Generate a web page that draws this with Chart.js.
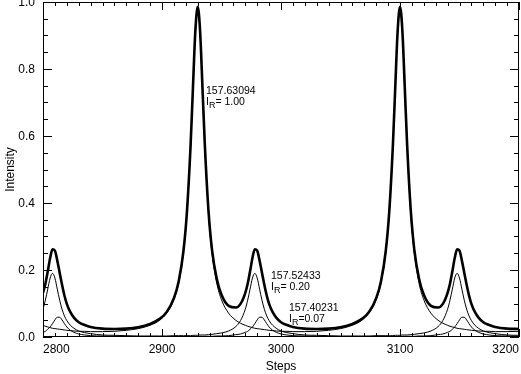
<!DOCTYPE html>
<html>
<head>
<meta charset="utf-8">
<script src="https://cdn.jsdelivr.net/npm/chart.js@4.4.1/dist/chart.umd.min.js"></script>
<style>
  html, body { margin: 0; padding: 0; background: #fff; }
  #wrap { width: 521px; height: 374px; }
</style>
</head>
<body>
<div id="wrap"><canvas id="fp_chart" width="521" height="374"></canvas></div>
<script>
// scan positions (steps)
const steps = [
  2800, 2802, 2804, 2806, 2808, 2810, 2812, 2814, 2816, 2818, 2820, 2823, 2826, 2830, 2835, 2840,
  2850, 2860, 2870, 2880, 2890, 2898, 2904, 2910, 2914, 2918, 2921, 2924, 2926, 2928, 2930, 2932,
  2934, 2936, 2939, 2942, 2946, 2950, 2956, 2962, 2966,
  2970, 2972, 2974, 2976, 2978, 2980, 2982, 2984, 2986, 2988, 2990, 2993, 2996, 3000, 3005, 3010,
  3020, 3030, 3040, 3050, 3060, 3068, 3074, 3080, 3084, 3088, 3091, 3094, 3096, 3098, 3100, 3102,
  3104, 3106, 3109, 3112, 3116, 3120, 3126, 3132, 3136,
  3140, 3142, 3144, 3146, 3148, 3150, 3152, 3154, 3156, 3158, 3160, 3163, 3166, 3170, 3175, 3180,
  3190, 3200
];

// total observed profile (thick line)
const total = [
  .132, .159, .196, .236, .262, .258, .228, .192, .156, .124, .099, .074, .058, .044, .036, .030,
  .025, .024, .025, .029, .039, .054, .075, .116, .166, .256, .376, .570, .744, .912, .986, .914,
  .746, .573, .380, .261, .174, .126, .093, .088, .099,
  .132, .159, .196, .236, .262, .258, .228, .192, .156, .124, .099, .074, .058, .044, .036, .030,
  .025, .024, .025, .029, .039, .054, .075, .116, .166, .256, .376, .570, .744, .912, .986, .914,
  .746, .573, .380, .261, .174, .126, .093, .088, .099,
  .132, .159, .196, .236, .262, .258, .228, .192, .156, .124, .099, .074, .058, .044, .036, .030,
  .025, .024
];

// 157.63094, I_R = 1.00
const line1 = [
  .035, .032, .030, .028, .026, .025, .024, .023, .022, .021, .020, .019, .018, .017, .017, .016,
  .016, .017, .020, .025, .035, .050, .071, .111, .161, .251, .371, .565, .738, .906, .980, .906,
  .738, .565, .371, .251, .161, .111, .071, .050, .041,
  .035, .032, .030, .028, .026, .025, .024, .023, .022, .021, .020, .019, .018, .017, .017, .016,
  .016, .017, .020, .025, .035, .050, .071, .111, .161, .251, .371, .565, .738, .906, .980, .906,
  .738, .565, .371, .251, .161, .111, .071, .050, .041,
  .035, .032, .030, .028, .026, .025, .024, .023, .022, .021, .020, .019, .018, .017, .017, .016,
  .016, .017
];

// 157.52433, I_R = 0.20
const line2 = [
  .083, .110, .143, .176, .190, .176, .143, .110, .083, .063, .049, .035, .026, .018, .013, .010,
  .006, .005, .004, .003, .003, .003, .003, .004, .004, .004, .004, .004, .005, .005, .005, .006,
  .006, .006, .007, .008, .010, .012, .018, .031, .049,
  .083, .110, .143, .176, .190, .176, .143, .110, .083, .063, .049, .035, .026, .018, .013, .010,
  .006, .005, .004, .003, .003, .003, .003, .004, .004, .004, .004, .004, .005, .005, .005, .006,
  .006, .006, .007, .008, .010, .012, .018, .031, .049,
  .083, .110, .143, .176, .190, .176, .143, .110, .083, .063, .049, .035, .026, .018, .013, .010,
  .006, .005
];

// 157.40231, I_R = 0.07
const line3 = [
  .014, .017, .023, .030, .040, .051, .059, .059, .051, .040, .030, .020, .014, .009, .006, .004,
  .003, .002, .001, .001, .001, .001, .001, .001, .001, .001, .001, .001, .001, .001, .001, .002,
  .002, .002, .002, .002, .003, .003, .004, .007, .009,
  .014, .017, .023, .030, .040, .051, .059, .059, .051, .040, .030, .020, .014, .009, .006, .004,
  .003, .002, .001, .001, .001, .001, .001, .001, .001, .001, .001, .001, .001, .001, .001, .002,
  .002, .002, .002, .002, .003, .003, .004, .007, .009,
  .014, .017, .023, .030, .040, .051, .059, .059, .051, .040, .030, .020, .014, .009, .006, .004,
  .003, .002
];

// line labels: wavelength, ratio, anchor (step, intensity of first baseline)
const lineNames = ['157.63094', '157.52433', '157.40231'];
const lineRatios = ['= 1.00', '= 0.20', '=0.07'];
const labelSteps = [2937, 2991.6, 3006.7];
const labelLevels = [0.725, 0.173, 0.078];

const FONT = '"Liberation Sans", Arial, Helvetica, sans-serif';

function toPoints(arr){
	return steps.map((s, i) => ({x: s, y: arr[i]}));
}

// box frame with inward ticks on all four sides, plus the line labels
const framePlugin = {
	id: 'frame',
	afterDatasetsDraw(chart){
		const {ctx, chartArea: a, scales: {x, y}} = chart;
		ctx.save();
		ctx.strokeStyle = '#000';
		ctx.lineWidth = 1;
		ctx.strokeRect(a.left + 0.5, a.top + 0.5, a.right - a.left - 1, a.bottom - a.top - 1);
		ctx.beginPath();
		for(let s = 2800; s <= 3200; s += 10){
			const px = Math.round(x.getPixelForValue(s)) + 0.5;
			const len = (s % 100 === 0) ? 8 : 4;
			ctx.moveTo(px, a.bottom); ctx.lineTo(px, a.bottom - len);
			ctx.moveTo(px, a.top); ctx.lineTo(px, a.top + len);
		}
		for(let k = 0; k <= 20; k++){
			const v = k * 0.05;
			const py = Math.round(y.getPixelForValue(v)) + 0.5;
			const len = (k % 4 === 0) ? 9 : 5;
			ctx.moveTo(a.left, py); ctx.lineTo(a.left + len, py);
			ctx.moveTo(a.right, py); ctx.lineTo(a.right - len, py);
		}
		ctx.stroke();

		ctx.fillStyle = '#000';
		ctx.textBaseline = 'alphabetic';
		ctx.textAlign = 'left';
		lineNames.forEach((name, i) => {
			const px = x.getPixelForValue(labelSteps[i]);
			const py = y.getPixelForValue(labelLevels[i]);
			ctx.font = '10.5px ' + FONT;
			ctx.fillText(name, px, py);
			const py2 = py + 11;
			ctx.fillText('I', px, py2);
			const iw = ctx.measureText('I').width;
			ctx.font = '9px ' + FONT;
			ctx.fillText('R', px + iw, py2 + 3);
			const rw = ctx.measureText('R').width;
			ctx.font = '10.5px ' + FONT;
			ctx.fillText(lineRatios[i], px + iw + rw, py2);
		});
		ctx.restore();
	}
};

const chartData = {
	type: 'line',
	data: {
		datasets: [
			{ label: 'total', data: toPoints(total), borderColor: '#000', borderWidth: 2.6 },
			{ label: lineNames[0], data: toPoints(line1), borderColor: '#000', borderWidth: 1 },
			{ label: lineNames[1], data: toPoints(line2), borderColor: '#000', borderWidth: 1 },
			{ label: lineNames[2], data: toPoints(line3), borderColor: '#000', borderWidth: 1 }
		]
	},
	options: {
		responsive: false,
		animation: false,
		events: [],
		layout: { padding: { top: 2, right: 2, left: 0, bottom: 0 } },
		elements: {
			point: { radius: 0 },
			line: { cubicInterpolationMode: 'monotone', fill: false }
		},
		scales: {
			x: {
				type: 'linear',
				min: 2800,
				max: 3200,
				grid: { display: false, drawTicks: false },
				border: { display: false },
				ticks: {
					stepSize: 100,
					align: 'inner',
					maxRotation: 0,
					padding: 5,
					color: '#000',
					font: { family: FONT, size: 12 },
					callback: (v) => String(v)
				},
				title: {
					display: true,
					text: 'Steps',
					color: '#000',
					font: { family: FONT, size: 12 },
					padding: { top: 0, bottom: 0 }
				},
				afterFit(scale){
					scale.height = 37;
					scale.paddingLeft = 0;
					scale.paddingRight = 0;
				}
			},
			y: {
				min: 0,
				max: 1.0,
				grid: { display: false, drawTicks: false },
				border: { display: false },
				ticks: {
					stepSize: 0.2,
					padding: 8,
					labelOffset: 1,
					color: '#000',
					font: { family: FONT, size: 12 },
					callback: (v) => v.toFixed(1)
				},
				title: {
					display: true,
					text: 'Intensity',
					color: '#000',
					font: { family: FONT, size: 12 },
					padding: { top: 3, bottom: 0 }
				},
				afterFit(scale){
					scale.width = 43;
					scale.paddingTop = 0;
					scale.paddingBottom = 0;
				}
			}
		},
		plugins: {
			legend: { display: false },
			tooltip: { enabled: false },
			title: { display: false }
		}
	},
	plugins: [framePlugin]
};

new Chart(document.getElementById('fp_chart'), chartData);
</script>
</body>
</html>
